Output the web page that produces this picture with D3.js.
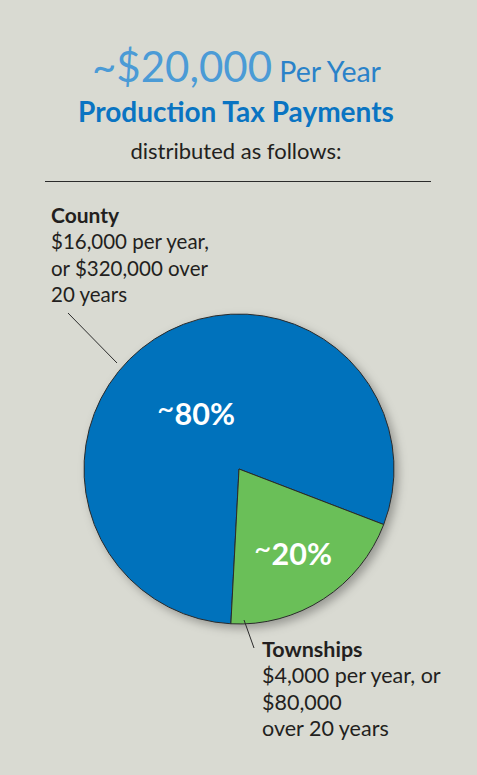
<!DOCTYPE html>
<html><head><meta charset="utf-8">
<script src="https://cdn.jsdelivr.net/npm/d3@7/dist/d3.min.js"></script>
<style>
html,body{margin:0;padding:0;background:#d9dad2;}
svg{display:block;}
text{font-family:Lato,"Noto Sans",sans-serif;}
</style></head>
<body>
<svg id="chart" width="477" height="775"></svg>
<script>
const categories = ["County", "Townships"];
const shares = [80, 20];
const shareLabels = ["80%", "20%"];
const detailLines = [
  ["$16,000 per year,", "or $320,000 over", "20 years"],
  ["$4,000 per year, or", "$80,000", "over 20 years"]
];
const colors = ["#0072bc", "#6abf59"];

const svg = d3.select("#chart");
const W = 477, H = 775;
svg.append("rect").attr("width", W).attr("height", H).attr("fill", "#d9dad2");

const defs = svg.append("defs");
const f = defs.append("filter").attr("id", "shadow").attr("x", "-20%").attr("y", "-20%").attr("width", "140%").attr("height", "140%");
f.append("feDropShadow").attr("dx", 4).attr("dy", 4).attr("stdDeviation", 5).attr("flood-color", "#000").attr("flood-opacity", 0.3);

// Title
const t1 = svg.append("text").attr("x", 92).attr("y", 82);
t1.append("tspan").text("~$20,000").attr("font-size", 42).attr("fill", "#4b9bd6");
t1.append("tspan").text(" Per Year").attr("font-size", 28.5).attr("fill", "#2a82c9");
svg.append("text").attr("x", 236).attr("y", 122).attr("text-anchor", "middle")
  .attr("font-size", 28).attr("font-weight", "bold").attr("fill", "#0a74c2").text("Production Tax Payments");
svg.append("text").attr("x", 236).attr("y", 159).attr("text-anchor", "middle")
  .attr("font-size", 22).attr("fill", "#231f20").text("distributed as follows:");
svg.append("line").attr("x1", 45).attr("x2", 431).attr("y1", 181.5).attr("y2", 181.5)
  .attr("stroke", "#2b2b2b").attr("stroke-width", 1.2);

// Pie
const cx = 239, cy = 469, R = 155;
const start = 183 * Math.PI / 180;
const pie = d3.pie().sort(null).startAngle(start).endAngle(start + 2 * Math.PI);
const arcs = pie(shares);
const arc = d3.arc().innerRadius(0).outerRadius(R);
const g = svg.append("g").attr("transform", `translate(${cx},${cy})`);
g.append("g").attr("filter", "url(#shadow)")
  .selectAll("path").data(arcs).join("path")
  .attr("d", arc).attr("fill", (d, i) => colors[i])
  .attr("stroke", "#2a2a2a").attr("stroke-width", 1);

// Percent labels
const labelPos = [[-43, -44], [54, 96]];
arcs.forEach((d, i) => {
  const t = g.append("text").attr("x", labelPos[i][0]).attr("y", labelPos[i][1])
    .attr("text-anchor", "middle").attr("fill", "#fff");
  t.append("tspan").text("~").attr("font-size", 30).attr("dy", -6);
  t.append("tspan").text(shareLabels[i]).attr("font-size", 30.5).attr("font-weight", "bold").attr("dy", 6);
});

// Callouts
const callouts = [
  {x: 51, y: 223, bold: 21, size: 20.5, line: [[68, 313], [117, 363]]},
  {x: 262, y: 657, bold: 21.5, size: 21.5, line: [[244, 620], [254, 648]]}
];
categories.forEach((c, i) => {
  const co = callouts[i];
  svg.append("line").attr("x1", co.line[0][0]).attr("y1", co.line[0][1])
    .attr("x2", co.line[1][0]).attr("y2", co.line[1][1])
    .attr("stroke", "#2b2b2b").attr("stroke-width", 1);
  const t = svg.append("text").attr("x", co.x).attr("y", co.y).attr("fill", "#231f20");
  t.append("tspan").attr("x", co.x).text(c).attr("font-weight", "bold").attr("font-size", co.bold);
  detailLines[i].forEach((ln, j) => {
    t.append("tspan").attr("x", co.x).attr("dy", 26.3).attr("font-size", co.size).text(ln);
  });
});
</script>
</body></html>
